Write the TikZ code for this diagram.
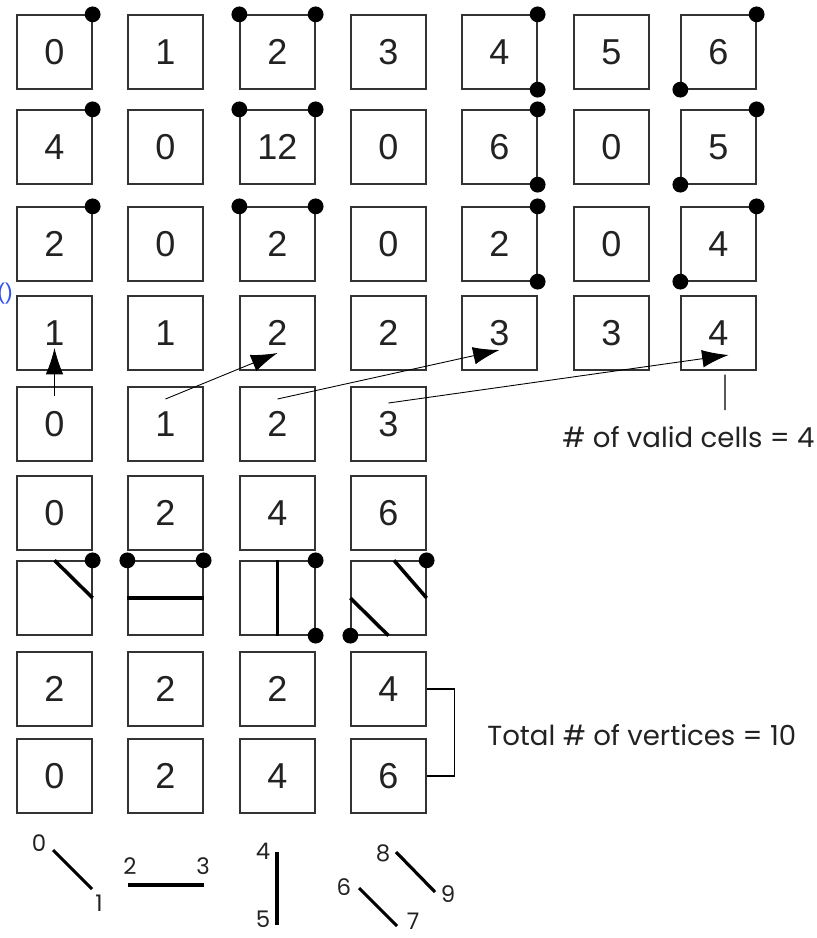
\documentclass[tikz,border=0pt]{standalone}
\usepackage{fontspec}
\setmainfont{Liberation Sans}
\newfontfamily\notefont{Poppins}
\usetikzlibrary{arrows.meta}

\definecolor{ink}{HTML}{222222}
\definecolor{edge}{HTML}{333333}
\definecolor{stray}{HTML}{3355EE}

\begin{document}
\begin{tikzpicture}[
        x=0.02cm, y=-0.02cm,
        cell/.style={
            draw=edge,
            line width=0.75pt,
            minimum width=1.5cm,
            minimum height=1.48cm,
            inner sep=0pt,
            text=ink,
            font=\fontsize{20.5}{24}\selectfont
        },
        note/.style={inner sep=0pt, text=ink, font=\notefont\fontsize{15.7}{18}\selectfont},
        vlabel/.style={inner sep=0pt, text=ink, font=\notefont\fontsize{13}{15}\selectfont},
        seg/.style={line width=1.8pt},
        bar/.style={line width=2pt},
        arrow/.style={-{Latex[length=15pt, width=10pt]}, line width=0.5pt}
    ]
    \useasboundingbox (0,0) rectangle (817,938);

    % grid of cells, named c<row><col>
    \foreach \y/\r/\vals in {52/0/{0,1,2,3,4,5,6}, 147/1/{4,0,12,0,6,0,5},
            244/2/{2,0,2,0,2,0,4}, 333/3/{1,1,2,2,3,3,4}, 424/4/{0,1,2,3},
            513/5/{0,2,4,6}, 598/6/{{},{},{},{}}, 689/7/{2,2,2,4}, 776/8/{0,2,4,6}}
        \foreach \v [count=\c from 0] in \vals {
            \pgfmathsetmacro\cx{{54.5,165.5,277.5,388.5,499.5,611.5,718.5}[\c]}
            \node[cell] (c\r\c) at (\cx,\y) {\v};
        }

    % corner dots
    \foreach \r in {0,1,2}
        \fill (c\r0.north east) circle (4.5pt)
              (c\r2.north west) circle (4.5pt) (c\r2.north east) circle (4.5pt)
              (c\r4.north east) circle (4.5pt) (c\r4.south east) circle (4.5pt)
              (c\r6.north east) circle (4.5pt) (c\r6.south west) circle (4.5pt);
    \fill (c60.north east) circle (4.5pt)
          (c61.north west) circle (4.5pt) (c61.north east) circle (4.5pt)
          (c62.north east) circle (4.5pt) (c62.south east) circle (4.5pt)
          (c63.north east) circle (4.5pt) (c63.south west) circle (4.5pt);

    % line cases
    \draw[bar] (c60.north) -- (c60.east);
    \draw[bar] (c61.west) -- (c61.east);
    \draw[bar] (c62.north) -- (c62.south);
    \draw[bar] ([shift={(5.5,0)}]c63.north) -- (c63.east);
    \draw[bar] (c63.west) -- (c63.south);

    % scan arrows
    \draw[arrow] ([shift={(0,-28)}]c40.center) -- ([shift={(0,15)}]c30.center);
    \draw[arrow] ([shift={(0,-25)}]c41.center) -- ([shift={(0,20)}]c32.center);
    \draw[arrow] ([shift={(0,-25)}]c42.center) -- ([shift={(0,17)}]c34.center);
    \draw[arrow] ([shift={(0,-21)}]c43.center) -- ([shift={(10,22)}]c36.center);

    \node[note, anchor=west] (valid) at (562,437) {\# of valid cells = 4};
    \coordinate (tick) at (725,410);
    \draw[line width=0.6pt] ([shift={(6.5,4)}]c36.south) -- (tick);

    \draw[line width=0.6pt] (c73.east) -- ++(28,0) |- (c83.east);
    \node[note, anchor=west] (total) at (487,735) {Total \# of vertices = 10};

    % vertices
    \coordinate (p0) at (53,850);  \coordinate (p1) at (92,889);
    \coordinate (p2) at (128,885); \coordinate (p3) at (204,885);
    \coordinate (p4) at (277,852); \coordinate (p5) at (277,925);
    \coordinate (p6) at (359,888); \coordinate (p7) at (397,926);
    \coordinate (p8) at (396,852); \coordinate (p9) at (435,892);
    \node[vlabel] (n0) at (39,843) {0};
    \node[vlabel] (n1) at (99,903) {1};
    \node[vlabel] (n2) at (130,866) {2};
    \node[vlabel] (n3) at (203,866) {3};
    \node[vlabel] (n4) at (263,851) {4};
    \node[vlabel] (n5) at (263,919) {5};
    \node[vlabel] (n6) at (344,887) {6};
    \node[vlabel] (n7) at (413,921) {7};
    \node[vlabel] (n8) at (383,853) {8};
    \node[vlabel] (n9) at (448,894) {9};
    \draw[seg] (p0) -- (p1);
    \draw[seg] (p2) -- (p3);
    \draw[seg] (p4) -- (p5);
    \draw[seg] (p6) -- (p7);
    \draw[seg] (p8) -- (p9);

    \node[anchor=east, inner sep=0pt, text=stray, font=\fontsize{13}{15}\selectfont] (paren) at (13,294) {()};
\end{tikzpicture}
\end{document}
